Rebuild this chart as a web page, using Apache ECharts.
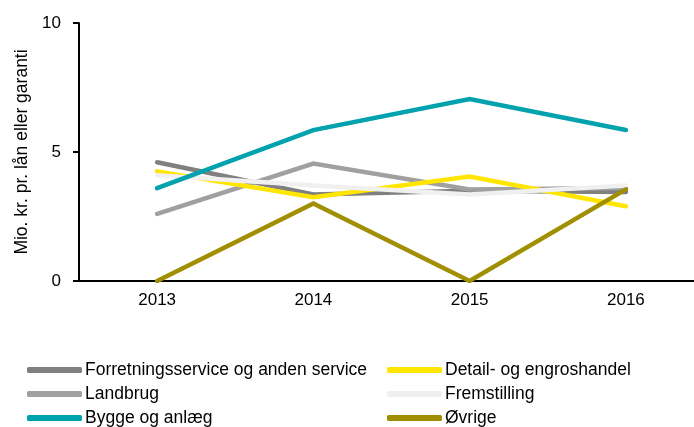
<!DOCTYPE html>
<html>
<head>
<meta charset="utf-8">
<script src="https://cdn.jsdelivr.net/npm/echarts@6/dist/echarts.min.js"></script>
<style>
  html, body { margin: 0; padding: 0; background: #fff; }
  #chart { width: 694px; height: 427px; }
</style>
</head>
<body>
<div id="chart"></div>
<script>
const years = ['2013', '2014', '2015', '2016']
const forretning = [4.6, 3.35, 3.5, 3.45]
const detail = [4.25, 3.25, 4.05, 2.9]
const landbrug = [2.6, 4.55, 3.55, 3.6]
const fremstilling = [4.1, 3.7, 3.35, 3.7]
const bygge = [3.6, 5.85, 7.05, 5.85]
const ovrige = [0, 3.0, 0, 3.55]

const leftNames = ['Forretningsservice og anden service', 'Landbrug', 'Bygge og anlæg']
const rightNames = ['Detail- og engroshandel', 'Fremstilling', 'Øvrige']

const fontFamily = '"Liberation Sans", Arial, sans-serif'

const chart = echarts.init(document.getElementById('chart'))

function line(name, data, color) {
  return {
    name,
    type: 'line',
    data,
    symbol: 'none',
    lineStyle: { width: 4.5, color, cap: 'round', join: 'miter' },
    itemStyle: { color },
    animation: false
  }
}

function legend(names, left) {
  return {
    orient: 'vertical',
    left,
    top: 361,
    padding: 0,
    itemWidth: 55,
    itemHeight: 6,
    itemGap: 6,
    icon: 'roundRect',
    data: names,
    textStyle: { fontSize: 17.5, color: '#000', fontFamily, padding: [0, 0, 0, -2] }
  }
}

chart.setOption({
  textStyle: { fontFamily },
  // plot runs past the right edge, like the original
  grid: { left: 79, width: 625, top: 23, height: 258, outerBoundsMode: 'none', containLabel: false },
  legend: [legend(leftNames, 27), legend(rightNames, 387)],
  xAxis: {
    type: 'category',
    data: years,
    axisLine: { lineStyle: { color: '#000', width: 2 } },
    axisTick: { show: false },
    axisLabel: { fontSize: 17, color: '#000', margin: 11, fontFamily }
  },
  yAxis: {
    type: 'value',
    min: 0,
    max: 10,
    interval: 5,
    name: 'Mio. kr. pr. lån eller garanti',
    nameLocation: 'middle',
    nameGap: 48,
    nameTextStyle: { fontSize: 17.5, color: '#000', fontFamily },
    axisLine: { show: true, lineStyle: { color: '#000', width: 2 } },
    axisTick: { show: true, length: 6, lineStyle: { color: '#000', width: 2 } },
    axisLabel: { fontSize: 17, color: '#000', margin: 18, fontFamily },
    splitLine: { show: false }
  },
  series: [
    line('Forretningsservice og anden service', forretning, '#808080'),
    line('Landbrug', landbrug, '#A0A0A0'),
    line('Detail- og engroshandel', detail, '#FFE600'),
    line('Fremstilling', fremstilling, '#F0F0F0'),
    line('Bygge og anlæg', bygge, '#00A3AD'),
    line('Øvrige', ovrige, '#A08F00')
  ]
})
</script>
</body>
</html>
